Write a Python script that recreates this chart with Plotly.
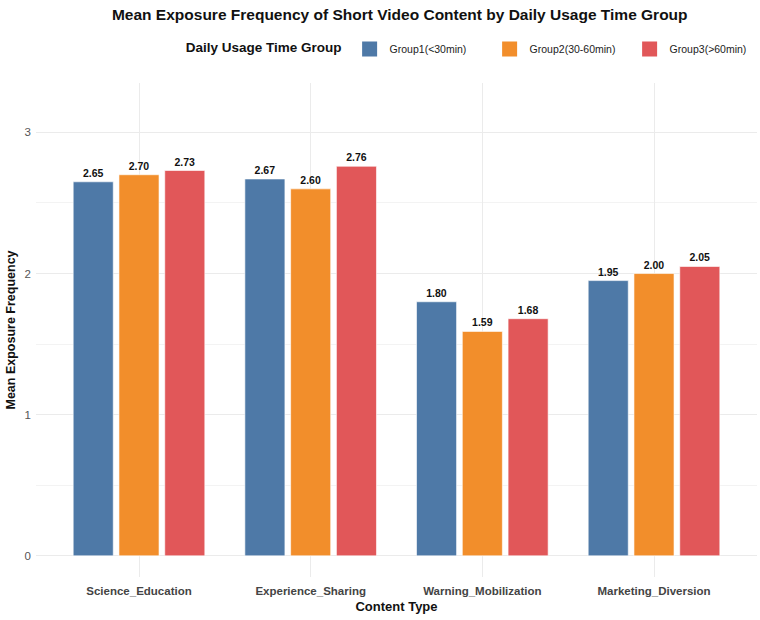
import plotly.graph_objects as go

categories = ["Science_Education", "Experience_Sharing", "Warning_Mobilization", "Marketing_Diversion"]
group_names = ["Group1(<30min)", "Group2(30-60min)", "Group3(>60min)"]
group1 = [2.65, 2.67, 1.80, 1.95]
group2 = [2.70, 2.60, 1.59, 2.00]
group3 = [2.73, 2.76, 1.68, 2.05]
colors = ["#4E79A7", "#F28E2B", "#E15759"]

FONT = "Liberation Sans, Arial, Helvetica, sans-serif"

fig = go.Figure()
for name, vals, col in zip(group_names, [group1, group2, group3], colors):
    fig.add_trace(go.Bar(
        x=categories, y=vals, name=name, legendgroup=name, showlegend=False,
        marker=dict(color=col, line=dict(color="white", width=0.6)),
        texttemplate="%{y:.2f}", textposition="outside", cliponaxis=False,
        textfont=dict(family=FONT, size=10.5, color="#111111", weight="bold"),
    ))
# legend keys (larger square swatches, as in the reference)
for name, col in zip(group_names, colors):
    fig.add_trace(go.Scatter(
        x=[None], y=[None], mode="markers", name=name, legendgroup=name,
        marker=dict(symbol="square", size=15, color=col),
    ))

fig.update_layout(
    width=760, height=620,
    margin=dict(l=36, r=3, t=83, b=43, autoexpand=False),
    paper_bgcolor="white", plot_bgcolor="white",
    barmode="group", bargap=0.2, bargroupgap=0.125,
    font=dict(family=FONT),
    title=dict(
        text="<b>Mean Exposure Frequency of Short Video Content by Daily Usage Time Group</b>",
        x=0.526, xref="container", xanchor="center",
        y=0.977, yref="container", yanchor="middle",
        font=dict(family=FONT, size=15.5, color="#111111"),
    ),
    legend=dict(
        orientation="h", x=0.205, xanchor="left", y=1.069, yanchor="middle",
        title=dict(text="<b>Daily Usage Time Group</b>", side="left",
                   font=dict(family=FONT, size=13.5, color="#111111")),
        font=dict(family=FONT, size=10.5, color="#222222"),
        entrywidth=95, entrywidthmode="pixels",
        itemsizing="trace",
    ),
    xaxis=dict(
        range=[-0.6, 3.6], showgrid=True, gridcolor="#EBEBEB", gridwidth=1.2,
        showline=False, zeroline=False, ticks="", ticklabelstandoff=5,
        tickfont=dict(family=FONT, size=11.5, color="#444444", weight="bold"),
        title=dict(text="<b>Content Type</b>", standoff=6,
                   font=dict(family=FONT, size=13, color="#111111")),
    ),
    yaxis=dict(
        range=[-0.15, 3.35], tickvals=[0, 1, 2, 3],
        showgrid=True, gridcolor="#EBEBEB", gridwidth=1.2,
        minor=dict(tickvals=[0.5, 1.5, 2.5], showgrid=True, gridcolor="#F3F3F3", gridwidth=0.8),
        zeroline=False, showline=False, ticks="", ticklabelstandoff=4,
        tickfont=dict(family=FONT, size=11.5, color="#555555"),
        title=dict(text="<b>Mean Exposure Frequency</b>", standoff=6,
                   font=dict(family=FONT, size=12.5, color="#111111")),
    ),
)

fig.write_html("out.html")
